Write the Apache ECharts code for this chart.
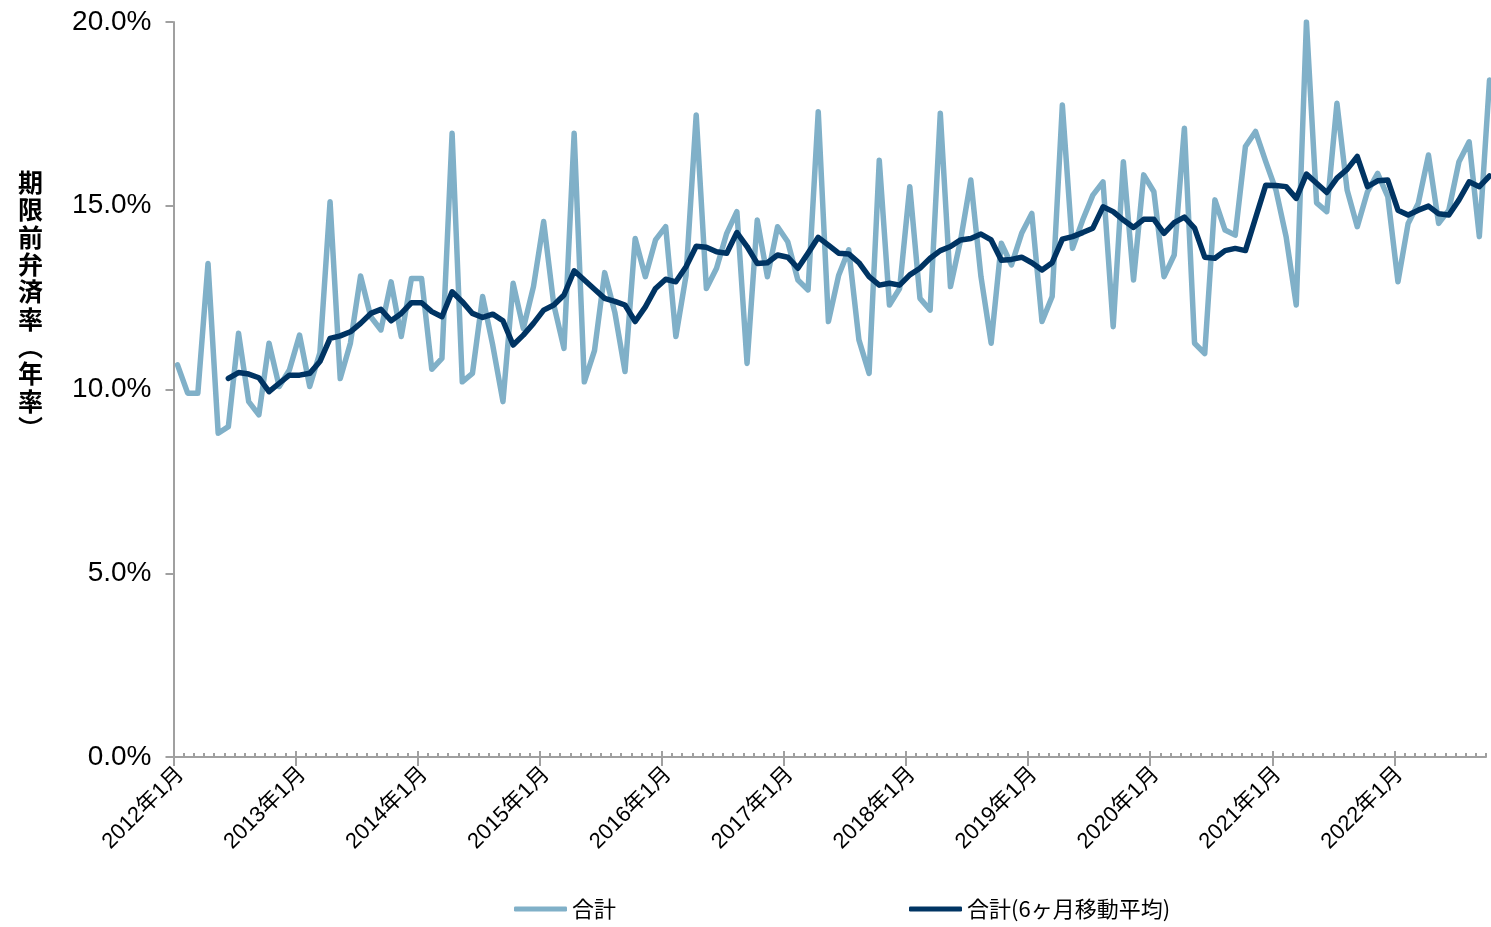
<!DOCTYPE html>
<html>
<head>
<meta charset="utf-8">
<script src="https://cdn.jsdelivr.net/npm/echarts@6/dist/echarts.min.js"></script>
<style>
html,body{margin:0;padding:0;background:#fff;}
#chart{width:1491px;height:927px;}
</style>
</head>
<body>
<div id="chart"></div>
<script>
// ---- data (percent, annual rate) ----
const startYear = 2012;
const monthCount = 130; // 2012年1月 .. 2022年10月
const months = [];
for (let k = 0; k < monthCount; k++) {
  const y = startYear + Math.floor(k / 12);
  const m = (k % 12) + 1;
  months.push(y + '年' + m + '月');
}

const total = [
  10.67, 9.90, 9.90, 13.43, 8.81, 8.99, 11.53, 9.67, 9.31, 11.26, 10.08, 10.53,
  11.48, 10.08, 11.00, 15.11, 10.30, 11.26, 13.09, 11.98, 11.62, 12.93, 11.44, 13.02,
  13.02, 10.55, 10.85, 16.97, 10.21, 10.44, 12.53, 11.20, 9.67, 12.89, 11.66, 12.80,
  14.57, 12.30, 11.12, 16.97, 10.21, 11.06, 13.18, 12.10, 10.49, 14.11, 13.07, 14.07,
  14.43, 11.44, 13.10, 17.47, 12.75, 13.30, 14.25, 14.84, 10.71, 14.61, 13.07, 14.43,
  14.02, 12.98, 12.71, 17.56, 11.85, 13.10, 13.80, 11.35, 10.44, 16.24, 12.30, 12.75,
  15.52, 12.48, 12.16, 17.52, 12.80, 14.07, 15.70, 13.07, 11.26, 13.98, 13.39, 14.25,
  14.79, 11.85, 12.53, 17.74, 13.84, 14.61, 15.29, 15.65, 11.71, 16.20, 12.98, 15.84,
  15.38, 13.07, 13.66, 17.11, 11.26, 10.98, 15.16, 14.34, 14.20, 16.61, 17.02, 16.20,
  15.43, 14.16, 12.30, 20.00, 15.08, 14.84, 17.79, 15.43, 14.43, 15.38, 15.88, 15.25,
  12.93, 14.52, 15.07, 16.38, 14.52, 14.88, 16.20, 16.74, 14.16, 18.42
];

const ma6 = [
  null, null, null, null, null, 10.30, 10.46, 10.42, 10.32, 9.94, 10.17, 10.39,
  10.39, 10.44, 10.76, 11.39, 11.46, 11.57, 11.80, 12.07, 12.18, 11.87, 12.07, 12.36,
  12.36, 12.12, 11.98, 12.66, 12.39, 12.07, 11.96, 12.05, 11.87, 11.21, 11.48, 11.80,
  12.16, 12.30, 12.57, 13.23, 12.98, 12.73, 12.48, 12.40, 12.30, 11.85, 12.25, 12.75,
  13.00, 12.93, 13.34, 13.90, 13.87, 13.75, 13.71, 14.27, 13.89, 13.43, 13.45, 13.66,
  13.60, 13.30, 13.71, 14.14, 13.93, 13.71, 13.69, 13.45, 13.07, 12.84, 12.89, 12.84,
  13.12, 13.30, 13.57, 13.78, 13.89, 14.07, 14.11, 14.23, 14.07, 13.52, 13.54, 13.60,
  13.45, 13.25, 13.45, 14.09, 14.16, 14.27, 14.39, 14.97, 14.84, 14.61, 14.41, 14.63,
  14.63, 14.25, 14.54, 14.69, 14.39, 13.60, 13.57, 13.78, 13.84, 13.78, 14.67, 15.56,
  15.55, 15.52, 15.20, 15.86, 15.61, 15.36, 15.75, 15.99, 16.34, 15.52, 15.68, 15.70,
  14.88, 14.75, 14.88, 14.99, 14.78, 14.75, 15.16, 15.65, 15.52, 15.81
];

const seriesNames = ['合計', '合計(6ヶ月移動平均)'];
const yTitle = ['期','限','前','弁','済','率','︵','年','率','︶'];

// ---- chart ----
const axisGray = '#a0a0a0';
const lightColor = '#80b0c8';
const darkColor = '#003463';
const isJan = function (idx) { return idx % 12 === 0; };

const chart = echarts.init(document.getElementById('chart'), null, {renderer: 'canvas'});

chart.setOption({
  animation: false,
  backgroundColor: '#ffffff',
  grid: [
    {left: 173.5, right: 5, top: 22, height: 735},      // axes
    {left: 177.5, right: 1.5, top: 22, height: 735},    // series
    {left: 180.5, right: -2, top: 22, height: 735}      // x labels (shifted like the reference)
  ],
  xAxis: [
    {
      gridIndex: 0, type: 'category', data: months, boundaryGap: false,
      axisLine: {show: true, lineStyle: {color: axisGray, width: 2}},
      axisTick: {show: true, inside: true, length: 4, interval: 0, lineStyle: {color: axisGray, width: 2}},
      axisLabel: {show: false},
      splitLine: {show: false}
    },
    {
      gridIndex: 0, type: 'category', data: months, boundaryGap: false, position: 'bottom',
      axisLine: {show: false},
      axisTick: {show: true, inside: false, length: 9, interval: isJan, lineStyle: {color: axisGray, width: 2}},
      axisLabel: {show: false}, splitLine: {show: false}
    },
    {
      gridIndex: 0, type: 'category', data: months, boundaryGap: false, position: 'bottom',
      axisLine: {show: false},
      axisTick: {show: true, inside: true, length: 6, interval: isJan, lineStyle: {color: axisGray, width: 2}},
      axisLabel: {show: false}, splitLine: {show: false}
    },
    {
      gridIndex: 1, type: 'category', data: months, boundaryGap: false, show: false
    },
    {
      gridIndex: 2, type: 'category', data: months, boundaryGap: false, position: 'bottom',
      axisLine: {show: false}, axisTick: {show: false}, splitLine: {show: false},
      axisLabel: {
        interval: isJan, rotate: 45, margin: 14, color: '#000',
        fontSize: 22, fontFamily: '"Liberation Sans", "Noto Sans CJK JP", sans-serif'
      }
    }
  ],
  yAxis: [
    {
      gridIndex: 0, type: 'value', min: 0, max: 20, interval: 5,
      axisLine: {show: true, lineStyle: {color: axisGray, width: 2}},
      axisTick: {show: true, inside: false, length: 8, lineStyle: {color: axisGray, width: 2}},
      axisLabel: {
        margin: 22, color: '#000', fontSize: 28,
        fontFamily: '"Liberation Sans", Arial, sans-serif',
        formatter: function (v) { return v.toFixed(1) + '%'; }
      },
      splitLine: {show: false}
    },
    {gridIndex: 1, type: 'value', min: 0, max: 20, interval: 5, show: false, splitLine: {show: false}},
    {gridIndex: 2, type: 'value', min: 0, max: 20, interval: 5, show: false, splitLine: {show: false}}
  ],
  legend: [
    {
      left: 514, top: 898, padding: 0, itemWidth: 53, itemHeight: 5, itemGap: 5,
      icon: 'roundRect',
      data: [seriesNames[0]],
      textStyle: {color: '#000', fontSize: 22, fontFamily: '"Noto Sans CJK JP", sans-serif'}
    },
    {
      left: 909, top: 898, padding: 0, itemWidth: 53, itemHeight: 5, itemGap: 5,
      icon: 'roundRect',
      data: [seriesNames[1]],
      textStyle: {color: '#000', fontSize: 22, fontFamily: '"Noto Sans CJK JP", sans-serif'}
    }
  ],
  graphic: [
    {
      type: 'text', left: 18, top: 169, silent: true,
      style: {
        text: yTitle.join('\n'),
        fill: '#000',
        align: 'center',
        fontSize: 25, fontWeight: 'bold', lineHeight: 27.3,
        fontFamily: '"Noto Sans CJK JP", sans-serif'
      }
    }
  ],
  series: [
    {
      name: seriesNames[0], type: 'line', xAxisIndex: 3, yAxisIndex: 1,
      data: total, symbol: 'none', showSymbol: false, connectNulls: false,
      color: lightColor,
      itemStyle: {color: lightColor},
      lineStyle: {color: lightColor, width: 5.5, join: 'round', cap: 'round'},
      z: 2
    },
    {
      name: seriesNames[1], type: 'line', xAxisIndex: 3, yAxisIndex: 1,
      data: ma6, symbol: 'none', showSymbol: false, connectNulls: false,
      color: darkColor,
      itemStyle: {color: darkColor},
      lineStyle: {color: darkColor, width: 5.5, join: 'round', cap: 'round'},
      z: 3
    }
  ]
});
</script>
</body>
</html>
